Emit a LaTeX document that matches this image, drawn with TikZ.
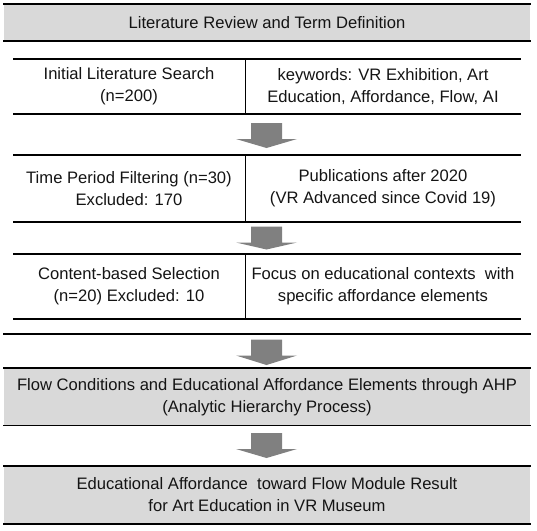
\documentclass[tikz,border=0pt]{standalone}
\usepackage{fontspec}
\setmainfont{Liberation Sans}
\definecolor{boxgray}{RGB}{217,217,217}
\definecolor{arrowgray}{RGB}{128,128,128}
\definecolor{txtcol}{RGB}{20,20,20}
\newcommand\blockdown[2]{%
  \fill[blockarrow] ($(#1)+(-15.5,0)$) -- ($(#1)+(15.5,0)$) -- ($(#1)+(15.5,16)$) -- ($(#1)+(30.5,16)$)
    -- (#2) -- ($(#1)+(-30.5,16)$) -- ($(#1)+(-15.5,16)$) -- cycle;}
\usetikzlibrary{calc}
\begin{document}
\begin{tikzpicture}[x=1pt,y=-1pt,
  txt/.style={font=\fontsize{16.6}{22}\selectfont, align=center, inner sep=0pt, text=txtcol},
  rule/.style={line width=1.4pt, black},
  divider/.style={line width=0.9pt, black},
  graybox/.style={fill=boxgray, draw=none},
  blockarrow/.style={fill=arrowgray, draw=none}]
\useasboundingbox (0,0) rectangle (537,530);
% top box
\fill[graybox] (4,4) rectangle (530,41);
\draw[rule] (3,4) -- (531,4);
\draw[rule] (3,41) -- (531,41);
\node[txt] (title) at (267,22.5) {Literature Review and Term Definition};
% row 1
\draw[rule] (13,59) -- (521,59);
\draw[rule] (13,114) -- (521,114);
\draw[divider] (245,59) -- (245,114);
\node[txt] (r1l) at (129,86.5) {Initial Literature Search\\(n=200)};
\node[txt] (r1r) at (383,86.5) {keywords: VR Exhibition, Art\\Education, Affordance, Flow, AI};
% arrow 1
\coordinate (a1s) at (266.5,123);
\coordinate (a1t) at (266.5,148);
\blockdown{a1s}{a1t}
% row 2
\draw[rule] (13,155) -- (521,155);
\draw[rule] (13,222) -- (521,222);
\draw[divider] (245,155) -- (245,222);
\node[txt] (r2l) at (129,188.5) {Time Period Filtering (n=30)\\Excluded: 170};
\node[txt] (r2r) at (383,188.5) {Publications after 2020\\(VR Advanced since Covid 19)};
% arrow 2
\coordinate (a2s) at (266.5,226.5);
\coordinate (a2t) at (266.5,249.5);
\blockdown{a2s}{a2t}
% row 3
\draw[rule] (13,254) -- (521,254);
\draw[rule] (13,319) -- (521,319);
\draw[divider] (245,254) -- (245,319);
\node[txt] (r3l) at (129,286.5) {Content-based Selection\\(n=20) Excluded: 10};
\node[txt] (r3r) at (383,286.5) {Focus on educational contexts\ \ with\\specific affordance elements};
\draw[rule] (3,334) -- (531,334);
% arrow 3
\coordinate (a3s) at (266.5,339.5);
\coordinate (a3t) at (266.5,365);
\blockdown{a3s}{a3t}
% gray box 2
\fill[graybox] (4,368) rectangle (530,425.5);
\draw[rule] (3,368) -- (531,368);
\draw[rule] (3,425.5) -- (531,425.5);
\node[txt] (ahp) at (267,397) {Flow Conditions and Educational Affordance Elements through AHP\\(Analytic Hierarchy Process)};
% arrow 4
\coordinate (a4s) at (266.5,433);
\coordinate (a4t) at (266.5,458);
\blockdown{a4s}{a4t}
% gray box 3
\fill[graybox] (4,466) rectangle (530,524);
\draw[rule] (3,466) -- (531,466);
\draw[rule] (3,524) -- (531,524);
\node[txt] (res) at (267,495) {Educational Affordance\ \ toward Flow Module Result\\for Art Education in VR Museum};
\end{tikzpicture}
\end{document}
